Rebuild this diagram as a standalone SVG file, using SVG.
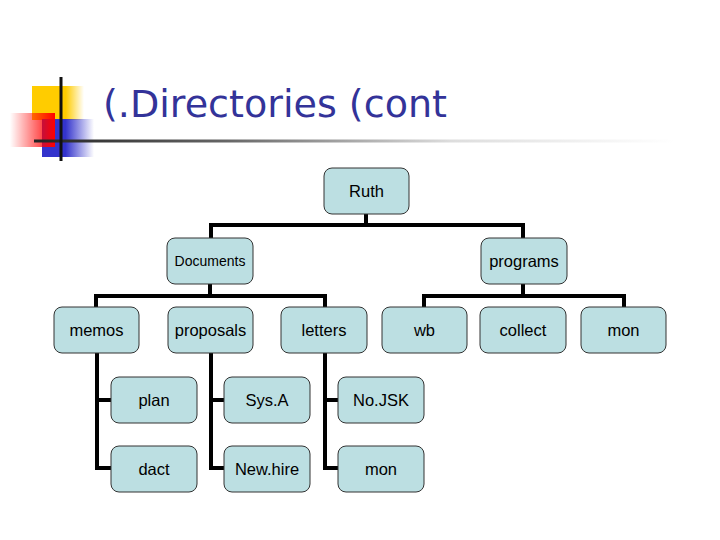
<svg xmlns="http://www.w3.org/2000/svg" width="720" height="540" viewBox="0 0 720 540">
<defs>
<linearGradient id="gy" x1="0" y1="0" x2="1" y2="0"><stop offset="0" stop-color="#FFCC00"/><stop offset="0.65" stop-color="#FFCC00"/><stop offset="1" stop-color="#FFCC00" stop-opacity="0"/></linearGradient>
<linearGradient id="gb" x1="0" y1="0" x2="1" y2="0"><stop offset="0" stop-color="#3333CC"/><stop offset="0.45" stop-color="#3333CC"/><stop offset="1" stop-color="#3333CC" stop-opacity="0"/></linearGradient>
<linearGradient id="gr" x1="0" y1="0" x2="1" y2="0"><stop offset="0" stop-color="#FF0000" stop-opacity="0"/><stop offset="1" stop-color="#FF0000"/></linearGradient>
<linearGradient id="gl" gradientUnits="userSpaceOnUse" x1="34" y1="0" x2="675" y2="0"><stop offset="0" stop-color="#222222"/><stop offset="0.3" stop-color="#666666"/><stop offset="0.65" stop-color="#DDDDDD"/><stop offset="1" stop-color="#FFFFFF"/></linearGradient>
</defs>
<style>
.box{fill:#BCDFE2;stroke:#333333;stroke-width:1}
.t{font-family:"Liberation Sans",Arial,sans-serif;font-size:16.5px;fill:#000;text-anchor:middle;dominant-baseline:central}
.c{fill:none;stroke:#000;stroke-width:4}
</style>
<g id="decoration">
<rect x="32" y="86" width="52" height="34" fill="url(#gy)"/>
<rect x="42" y="119" width="52" height="38" fill="url(#gb)"/>
<rect x="10" y="113" width="45" height="34" fill="url(#gr)"/>
<rect x="34" y="139.5" width="641" height="3" fill="url(#gl)"/>
<rect x="59.5" y="77" width="3" height="84" fill="#111111"/>
</g>
<text x="103" y="117" font-family="'DejaVu Sans',Verdana,sans-serif" font-size="37" fill="#333399" textLength="344" lengthAdjust="spacingAndGlyphs">(.Directories (cont</text>
<g id="connectors">
<path class="c" d="M211,238 V225 H523 V238 M366,214 V225"/>
<path class="c" d="M96,307 V296 H325 V307 M210,284 V296"/>
<path class="c" d="M424,307 V296 H624 V307 M523,284 V296"/>
<path class="c" d="M97,353 V468 H111 M97,400 H111"/>
<path class="c" d="M211,353 V468 H224 M211,400 H224"/>
<path class="c" d="M325,353 V468 H338 M325,400 H338"/>
</g>
<g id="ruth"><rect class="box" x="324" y="168" width="85" height="46" rx="8"/><text class="t" x="366.5" y="191">Ruth</text></g>
<g id="documents"><rect class="box" x="167" y="238" width="86" height="46" rx="8"/><text class="t" x="210" y="261" style="font-size:14px">Documents</text></g>
<g id="programs"><rect class="box" x="481" y="238" width="86" height="46" rx="8"/><text class="t" x="524" y="261">programs</text></g>
<g id="memos"><rect class="box" x="54" y="307" width="85" height="46" rx="8"/><text class="t" x="96.5" y="330">memos</text></g>
<g id="proposals"><rect class="box" x="168" y="307" width="85" height="46" rx="8"/><text class="t" x="210.5" y="330">proposals</text></g>
<g id="letters"><rect class="box" x="281" y="307" width="86" height="46" rx="8"/><text class="t" x="324" y="330">letters</text></g>
<g id="wb"><rect class="box" x="382" y="307" width="85" height="46" rx="8"/><text class="t" x="424.5" y="330">wb</text></g>
<g id="collect"><rect class="box" x="480" y="307" width="86" height="46" rx="8"/><text class="t" x="523" y="330">collect</text></g>
<g id="mon1"><rect class="box" x="581" y="307" width="85" height="46" rx="8"/><text class="t" x="623.5" y="330">mon</text></g>
<g id="plan"><rect class="box" x="111" y="377" width="86" height="46" rx="8"/><text class="t" x="154" y="400">plan</text></g>
<g id="sysa"><rect class="box" x="224" y="377" width="86" height="46" rx="8"/><text class="t" x="267" y="400">Sys.A</text></g>
<g id="nojsk"><rect class="box" x="338" y="377" width="86" height="46" rx="8"/><text class="t" x="381" y="400">No.JSK</text></g>
<g id="dact"><rect class="box" x="111" y="446" width="86" height="46" rx="8"/><text class="t" x="154" y="469">dact</text></g>
<g id="newhire"><rect class="box" x="224" y="446" width="86" height="46" rx="8"/><text class="t" x="267" y="469">New.hire</text></g>
<g id="mon2"><rect class="box" x="338" y="446" width="86" height="46" rx="8"/><text class="t" x="381" y="469">mon</text></g>
</svg>
